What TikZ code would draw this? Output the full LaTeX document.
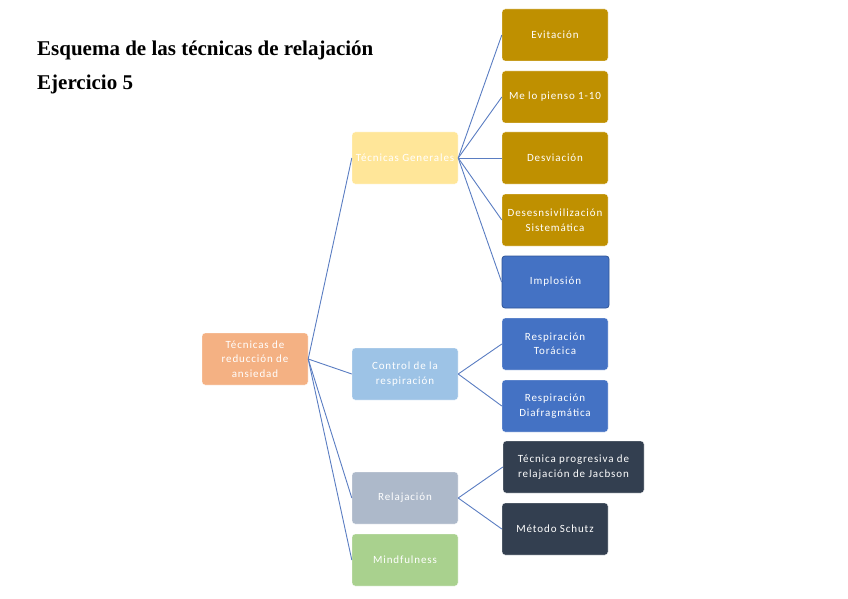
\documentclass[tikz,border=0pt]{standalone}
\usepackage{fontspec}
\setmainfont{Liberation Serif}
\newfontfamily\boxfont[LetterSpace=8]{Carlito}
\usepackage{tikz}
\definecolor{rootorange}{HTML}{F4B183}
\definecolor{paleyellow}{HTML}{FFE699}
\definecolor{paleblue}{HTML}{9DC3E6}
\definecolor{palegray}{HTML}{ADB9CA}
\definecolor{palegreen}{HTML}{A9D18E}
\definecolor{darkgold}{HTML}{BF9000}
\definecolor{midblue}{HTML}{4472C4}
\definecolor{edgeblue}{HTML}{2F5597}
\definecolor{slate}{HTML}{333F50}
\definecolor{linkblue}{HTML}{5A7DC2}

\tikzset{
  item/.style={rectangle, rounded corners=3pt, draw=white, line width=.4pt,
    minimum width=106pt, minimum height=52pt, align=center, text=white,
    font=\boxfont\fontsize{11}{14.5}\selectfont, inner sep=1pt},
  link/.style={draw=linkblue, line width=.9pt},
  heading/.style={anchor=base west, inner sep=0pt, font=\bfseries\fontsize{21}{24}\selectfont}
}

\begin{document}
\begin{tikzpicture}[x=1pt,y=-1pt]
\useasboundingbox (0,0) rectangle (848,599);
\node[heading] (title) at (37,56) {Esquema de las técnicas de relajación};
\node[heading] (exercise) at (37,90) {Ejercicio 5};

% root and first level
\node[item,fill=rootorange] (root) at (255,359) {Técnicas de\\reducción de\\ansiedad};
\node[item,fill=paleyellow] (general) at (405,158) {Técnicas Generales};
\node[item,fill=paleblue] (breath) at (405,374) {Control de la\\respiración};
\node[item,fill=palegray] (relax) at (405,498) {Relajación};
\node[item,fill=palegreen] (mind) at (405,560) {Mindfulness};

% second level
\node[item,fill=darkgold] (avoid) at (555,35) {Evitación};
\node[item,fill=darkgold] (think) at (555,97) {Me lo pienso 1-10};
\node[item,fill=darkgold] (deviate) at (555,158) {Desviación};
\node[item,fill=darkgold] (desens) at (555,220) {Desesnsivilización\\Sistemática};
\node[item,fill=midblue,draw=edgeblue,line width=.8pt,minimum width=107pt] (implode) at (555.5,282) {Implosión};
\node[item,fill=midblue] (thorax) at (555,344) {Respiración\\Torácica};
\node[item,fill=midblue] (diaphr) at (555,406) {Respiración\\Diafragmática};
\node[item,fill=slate,minimum width=141pt] (jacobson) at (573.5,467) {Técnica progresiva de\\relajación de Jacbson};
\node[item,fill=slate] (schutz) at (555,529) {Método Schutz};

\foreach \kid in {general,breath,relax,mind}
  \draw[link] (root.east) -- (\kid.west);
\foreach \kid in {avoid,think,deviate,desens,implode}
  \draw[link] (general.east) -- (\kid.west);
\foreach \kid in {thorax,diaphr}
  \draw[link] (breath.east) -- (\kid.west);
\foreach \kid in {jacobson,schutz}
  \draw[link] (relax.east) -- (\kid.west);
\end{tikzpicture}
\end{document}
